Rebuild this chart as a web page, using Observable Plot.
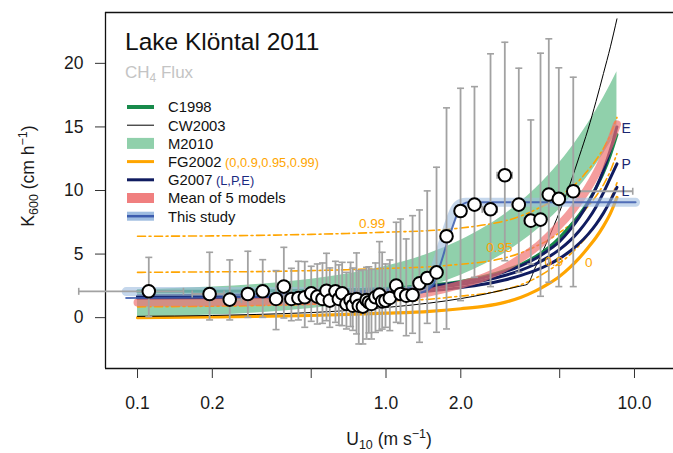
<!DOCTYPE html>
<html><head><meta charset="utf-8">
<script src="https://cdn.jsdelivr.net/npm/d3@7"></script>
<script src="https://cdn.jsdelivr.net/npm/@observablehq/plot@0.6"></script>
<style>
html,body{margin:0;padding:0;background:#fff;overflow:hidden}
#chart{position:relative;width:673px;height:453px}
svg{display:block;overflow:visible}
</style></head><body><div id="chart"></div>
<script>
// ---------- data ----------
const xTicks = [0.1, 0.2, 0.5, 1, 2, 5, 10];
const xTickLabels = ["0.1", "0.2", "0.5", "1.0", "2.0", "5.0", "10.0"];
const yTicks = [0, 5, 10, 15, 20];

// model curves, sampled at these wind speeds
const gridU = [0.1,0.2,0.3,0.5,0.7,1,1.5,2,2.5,3,3.5,4,4.5,5,5.5,6,6.5,7,7.5,8,8.5];
const c1998K = [2.07,2.08,2.1,2.15,2.2,2.3,2.55,2.85,3.25,3.7,4.2,4.8,5.5,6.3,7.2,8.1,9.1,10.2,11.4,12.8,14.4];
const m2010Lo = [0.02,0.2,0.37,0.72,1.07,1.59,2.46,3.33,4.2,5.07,5.94,6.81,7.68,8.55,9.42,10.29,11.16,12.03,12.9,13.77,14.64];
const m2010Hi = [2.2,2.41,2.61,3.02,3.43,4.04,5.06,6.08,7.1,8.12,9.14,10.16,11.18,12.2,13.22,14.24,15.26,16.28,17.3,18.32,19.34];
const fg0K  = [0.0,0.05,0.09,0.17,0.25,0.35,0.5,0.7,0.9,1.2,1.6,2.1,2.65,3.25,3.95,4.7,5.5,6.3,7.2,8.2,9.45];
const fg90K = [0.85,0.9,0.95,1.05,1.15,1.3,1.45,1.7,1.9,2.2,2.6,3.1,3.7,4.3,4.95,5.7,6.5,7.3,8.2,9.3,10.6];
const fg95K = [3.56,3.6,3.62,3.7,3.77,3.87,4.0,4.2,4.4,4.7,5.1,5.6,6.1,6.7,7.3,7.95,8.75,9.55,10.45,11.55,12.9];
const fg99K = [6.4,6.43,6.47,6.55,6.62,6.72,6.85,7.05,7.3,7.6,8.0,8.5,9.0,9.55,10.15,10.8,11.6,12.4,13.3,14.4,15.75];
const g07E = [1.70,1.75,1.79,1.88,1.98,2.15,2.46,2.79,3.17,3.6,4.09,4.65,5.3,6.0,6.9,7.9,9.0,10.2,11.6,13.2,15.0];
const g07P = [1.64,1.68,1.72,1.81,1.90,2.04,2.31,2.60,2.94,3.31,3.74,4.22,4.76,5.37,6.06,6.84,7.72,8.71,9.83,11.0,12.1];
const g07L = [1.53,1.57,1.60,1.68,1.76,1.88,2.10,2.36,2.64,2.96,3.32,3.71,4.16,4.66,5.22,5.85,6.55,7.34,8.22,9.2,10.25];
const meanK = [1.2,1.2,1.25,1.3,1.4,1.55,2.0,2.6,3.2,3.9,4.7,5.5,6.4,7.3,8.2,9.2,10.2,11.3,12.5,13.8,15.2];

const cw2003U = [0.1,0.2,0.3,0.5,0.7,1,1.5,2,2.5,3,3.5,3.7,4,4.5,5,5.5,6,6.5,7,7.5,8,8.5];
const cw2003K = [0.1,0.17,0.25,0.4,0.56,0.8,1.15,1.5,1.85,2.2,2.5,2.62,4.0,6.2,8.35,10.5,12.7,14.8,17.0,19.2,21.3,23.5];

// "This study" fit: band and centre line
const studyBandU = [0.09,1.0,1.35,1.5,1.6,1.7,1.8,1.9,2.0,2.1,10.1];
const studyBandK = [2.05,2.05,2.2,2.8,4.3,6.0,7.5,8.6,9.0,9.07,9.07];
const studyLineU = [0.09,1.0,1.4,1.55,1.65,1.75,1.85,1.95,2.05,2.15,10.1];
const studyLineK = [1.55,1.7,2.0,2.6,4.1,5.7,7.1,8.3,8.95,9.07,9.07];

// binned observations
const ptU = [0.111,0.195,0.235,0.278,0.319,0.361,0.388,0.416,0.444,0.471,0.500,0.529,0.555,0.576,0.594,0.626,0.646,0.666,0.693,0.720,0.735,0.761,0.777,0.807,0.835,0.853,0.874,0.907,0.941,0.965,0.995,1.036,1.099,1.144,1.206,1.279,1.364,1.465,1.597,1.752,1.995,2.270,2.634,3.007,3.423,3.826,4.186,4.52,4.96,5.67];
const ptK = [2.07,1.86,1.42,1.86,2.07,1.47,2.44,1.47,1.55,1.60,1.91,1.65,1.47,2.12,1.34,2.07,1.47,1.91,1.08,1.39,0.94,1.47,0.94,0.87,1.39,1.21,1.08,1.60,1.81,1.28,1.34,1.55,2.52,1.86,1.73,1.78,2.70,3.12,3.56,6.40,8.39,8.89,8.52,11.20,8.89,7.63,7.71,9.68,9.34,9.94];
const ptLo = [0.08,-0.18,-0.18,0.02,0.02,-0.94,-0.03,-0.24,-0.18,-0.76,-0.29,-0.50,-0.45,-0.24,-0.76,-0.37,-0.60,-0.63,-0.89,-0.70,-1.00,-1.28,-2.07,-2.07,-1.68,-1.20,-1.68,-1.16,-1.02,-0.90,-0.76,-1.02,-0.37,-0.45,-1.42,-1.23,-1.94,-0.45,-1.15,-0.89,1.34,3.17,2.44,4.48,3.56,4.22,1.68,2.78,2.44,2.44];
const ptHi = [4.74,5.14,4.54,5.22,4.56,3.70,5.53,3.88,4.43,4.41,4.04,4.22,4.30,5.06,3.91,4.43,4.15,4.35,3.56,4.35,3.90,5.09,3.70,3.75,3.96,4.00,3.80,4.30,5.98,5.14,4.22,4.54,7.50,7.76,6.19,8.02,8.47,9.97,11.83,16.50,18.04,18.17,20.75,21.66,19.62,15.55,20.80,21.93,19.65,18.91];

// horizontal (wind) error bars
const hU  = [0.111,0.195,0.235,2.270,2.634,3.007,3.423,3.826,5.67];
const hK  = [2.07,1.86,1.42,8.89,8.52,11.20,8.89,7.63,9.94];
const hLo = [0.058,0.166,0.222,2.15,2.44,2.80,3.22,3.60,5.37];
const hHi = [0.153,0.223,0.262,2.40,2.80,3.22,3.58,4.05,9.84];

// in-plot labels
const fgLabU = [0.880,2.862,4.735,6.548];
const fgLabK = [7.37,5.47,4.41,4.33];
const fgLabText = ["0.99","0.95","0.9","0"];
const gLabU = [8.87,8.87,8.87];
const gLabK = [14.87,12.08,9.89];
const gLabText = ["E","P","L"];

// ---------- colours ----------
const GREEN = "#178a4b", NAVY = "#101c60", ORANGE = "#ffa500", MFILL = "#90d0ab",
      SALMON = "#f07474", BAND = "#9ebce0", BLUE = "#3c5cae", GREY = "#a2a2a2";

// ---------- build tables ----------
const curve = (us, ks) => us.map((u, i) => ({u, k: ks[i]}));
const m2010 = gridU.map((u, i) => ({u, lo: m2010Lo[i], hi: m2010Hi[i]}));
const pts = ptU.map((u, i) => ({u, k: ptK[i], lo: ptLo[i], hi: ptHi[i]}));
const caps = pts.flatMap(d => [{u: d.u, k: d.lo}, {u: d.u, k: d.hi}]);
const hbars = hU.map((u, i) => ({u, k: hK[i], lo: hLo[i], hi: hHi[i]}));
const hcaps = hbars.flatMap(d => [{u: d.lo, k: d.k}, {u: d.hi, k: d.k}]);
const fgLabs = fgLabU.map((u, i) => ({u, k: fgLabK[i], t: fgLabText[i]}));
const gLabs = gLabU.map((u, i) => ({u, k: gLabK[i], t: gLabText[i]}));

const hCap = {draw(ctx, size) { const w = Math.sqrt(size / Math.PI); ctx.moveTo(-w, 0); ctx.lineTo(w, 0); }};
const vCap = {draw(ctx, size) { const w = Math.sqrt(size / Math.PI); ctx.moveTo(0, -w); ctx.lineTo(0, w); }};

const X0 = 0.07432, X1 = 14.355, Y0 = -4, Y1 = 24;
const CV = "monotone-x";
const DASH = "8,3.5,2,3.5";

const chart = Plot.plot({
  width: 673, height: 453,
  marginLeft: 105, marginRight: 0, marginTop: 12, marginBottom: 85,
  style: {fontFamily: "'Liberation Sans', Arial, sans-serif", background: "white", color: "#1a1a1a"},
  x: {type: "log", domain: [X0, X1], axis: null},
  y: {domain: [Y0, Y1], axis: null},
  marks: [
    Plot.areaY(m2010, {x: "u", y1: "lo", y2: "hi", fill: MFILL, curve: CV}),
    Plot.line(curve(gridU, fg0K), {x: "u", y: "k", stroke: ORANGE, strokeWidth: 3.2, curve: CV}),
    Plot.line(curve(gridU, fg90K), {x: "u", y: "k", stroke: ORANGE, strokeWidth: 1.6, strokeDasharray: DASH, curve: CV}),
    Plot.line(curve(gridU, fg95K), {x: "u", y: "k", stroke: ORANGE, strokeWidth: 1.6, strokeDasharray: DASH, curve: CV}),
    Plot.line(curve(gridU, fg99K), {x: "u", y: "k", stroke: ORANGE, strokeWidth: 1.6, strokeDasharray: DASH, curve: CV}),
    Plot.line(curve(cw2003U, cw2003K), {x: "u", y: "k", stroke: "black", strokeWidth: 1, curve: CV}),
    Plot.line(curve(gridU, c1998K), {x: "u", y: "k", stroke: GREEN, strokeWidth: 3, curve: CV}),
    Plot.line(curve(gridU, g07L), {x: "u", y: "k", stroke: NAVY, strokeWidth: 3, curve: CV}),
    Plot.line(curve(gridU, g07P), {x: "u", y: "k", stroke: NAVY, strokeWidth: 3, curve: CV}),
    Plot.line(curve(gridU, g07E), {x: "u", y: "k", stroke: NAVY, strokeWidth: 3, curve: CV}),
    Plot.line(curve(gridU, meanK), {x: "u", y: "k", stroke: SALMON, strokeWidth: 8, strokeOpacity: 0.7, curve: CV}),
    Plot.line(curve(studyBandU, studyBandK), {x: "u", y: "k", stroke: BAND, strokeWidth: 9, strokeOpacity: 0.6, curve: CV}),
    Plot.line(curve(studyLineU, studyLineK), {x: "u", y: "k", stroke: BLUE, strokeWidth: 2, strokeOpacity: 0.85, curve: CV}),
    // frame (left, top, bottom)
    Plot.ruleY([Y1], {stroke: "#111", strokeWidth: 1.3}),
    Plot.ruleY([Y0], {stroke: "#111", strokeWidth: 1.3}),
    Plot.ruleX([X0], {stroke: "#111", strokeWidth: 1.3}),
    // error bars
    Plot.ruleX(pts, {x: "u", y1: "lo", y2: "hi", stroke: GREY, strokeWidth: 1.8}),
    Plot.dot(caps, {x: "u", y: "k", symbol: hCap, r: 3.5, fill: "none", stroke: GREY, strokeWidth: 1.6}),
    Plot.ruleY(hbars, {y: "k", x1: "lo", x2: "hi", stroke: GREY, strokeWidth: 1.8}),
    Plot.dot(hcaps, {x: "u", y: "k", symbol: vCap, r: 3.5, fill: "none", stroke: GREY, strokeWidth: 1.6}),
    Plot.dot(pts, {x: "u", y: "k", r: 6.3, fill: "white", stroke: "black", strokeWidth: 2}),
    // labels
    Plot.text(fgLabs, {x: "u", y: "k", text: "t", fill: ORANGE, fontSize: 13.5}),
    Plot.text(gLabs, {x: "u", y: "k", text: "t", fill: "#1a2670", fontSize: 14, textAnchor: "start"}),
    // axes
    Plot.axisX(xTicks, {anchor: "bottom", tickSize: 10, tickPadding: 18, fontSize: 17.5, label: null,
      tickFormat: d => xTickLabels[xTicks.indexOf(d)], stroke: "#333", fill: "#1a1a1a"}),
    Plot.axisY(yTicks, {anchor: "left", tickSize: 10, tickPadding: 12, fontSize: 17.5, label: null,
      tickFormat: d => String(d), stroke: "#333", fill: "#1a1a1a"})
  ]
});
document.getElementById("chart").appendChild(chart);

// ---------- titles, axis titles, legend ----------
const svg = d3.select(chart);
const FONT = "'Liberation Sans', Arial, sans-serif";
const g = svg.append("g").attr("font-family", FONT).attr("text-anchor", "start");

g.append("text").attr("x", 125).attr("y", 50).attr("font-size", 24.5).attr("fill", "#111").text("Lake Klöntal 2011");
const sub = g.append("text").attr("x", 125).attr("y", 78).attr("font-size", 17).attr("fill", "#c4c4c4");
sub.append("tspan").text("CH");
sub.append("tspan").attr("font-size", 12).attr("dy", 4).text("4");
sub.append("tspan").attr("dy", -4).text(" Flux");

// x axis title
const xt = g.append("text").attr("x", 389).attr("y", 445).attr("font-size", 17.5).attr("text-anchor", "middle").attr("fill", "#1a1a1a");
xt.append("tspan").text("U");
xt.append("tspan").attr("font-size", 12.5).attr("dy", 4).text("10");
xt.append("tspan").attr("dy", -4).text(" (m s");
xt.append("tspan").attr("font-size", 12.5).attr("dy", -7).text("\u22121");
xt.append("tspan").attr("dy", 7).text(")");

// y axis title
const yt = g.append("text").attr("transform", "translate(34,176) rotate(-90)").attr("font-size", 17.5).attr("text-anchor", "middle").attr("fill", "#1a1a1a");
yt.append("tspan").text("K");
yt.append("tspan").attr("font-size", 12.5).attr("dy", 4).text("600");
yt.append("tspan").attr("dy", -4).text(" (cm h");
yt.append("tspan").attr("font-size", 12.5).attr("dy", -7).text("\u22121");
yt.append("tspan").attr("dy", 7).text(")");

// legend
const legendRows = [
  {label: "C1998", kind: "line", color: GREEN, w: 4},
  {label: "CW2003", kind: "line", color: "black", w: 1},
  {label: "M2010", kind: "rect", color: MFILL, w: 11},
  {label: "FG2002", extra: "(0,0.9,0.95,0.99)", extraColor: ORANGE, kind: "line", color: ORANGE, w: 3},
  {label: "G2007", extra: "(L,P,E)", extraColor: "#1a2a80", kind: "line", color: NAVY, w: 3},
  {label: "Mean of 5 models", kind: "rect", color: "#f07f7f", w: 10},
  {label: "This study", kind: "study"}
];
legendRows.forEach((r, i) => {
  const cy = 107 + i * 18.2;
  if (r.kind === "line") {
    g.append("line").attr("x1", 127).attr("x2", 154).attr("y1", cy).attr("y2", cy).attr("stroke", r.color).attr("stroke-width", r.w);
  } else if (r.kind === "rect") {
    g.append("rect").attr("x", 127).attr("y", cy - r.w / 2).attr("width", 27).attr("height", r.w).attr("fill", r.color);
  } else {
    g.append("rect").attr("x", 127).attr("y", cy - 4.5).attr("width", 27).attr("height", 9).attr("fill", BAND);
    g.append("line").attr("x1", 127).attr("x2", 154).attr("y1", cy).attr("y2", cy).attr("stroke", BLUE).attr("stroke-width", 2.5);
  }
  const t = g.append("text").attr("x", 168).attr("y", cy + 5.3).attr("font-size", 14.8).attr("fill", "#111");
  t.append("tspan").text(r.label);
  if (r.extra) t.append("tspan").attr("font-size", 12.8).attr("fill", r.extraColor).text(" " + r.extra);
});
</script></body></html>
